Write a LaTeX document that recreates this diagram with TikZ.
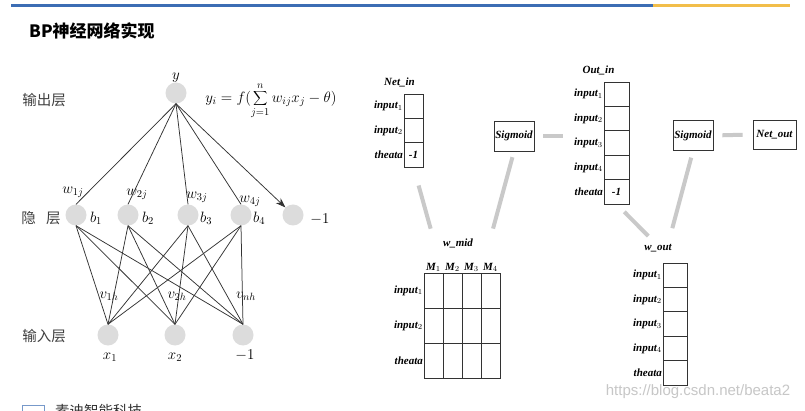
\documentclass[tikz,border=0pt]{standalone}
\usepackage{fix-cm}
\usepackage{fontspec}
\setmainfont{Liberation Serif}
\setsansfont{Liberation Sans}
\newfontfamily\cjk{Noto Sans CJK SC}
\usetikzlibrary{arrows.meta, positioning, calc}
\usepackage{xcolor}
\definecolor{bpgray}{HTML}{DCDCDC}
\definecolor{bplink}{HTML}{C9C9C9}
\definecolor{bpblue}{HTML}{3C6DB4}
\definecolor{bpgold}{HTML}{F2BE4A}
\newcommand{\tabfont}{\fontsize{11}{13}\selectfont\bfseries\itshape}
\newcommand{\netfont}{\fontsize{15}{17}\selectfont}

\begin{document}
\begin{tikzpicture}[x=1pt, y=-1pt,
    neuron/.style={circle, fill=bpgray, minimum size=21pt, inner sep=0pt},
    wire/.style={black!80, line width=0.75pt},
    mlab/.style={inner sep=0pt, font=\netfont},
    cjklab/.style={inner sep=0pt, font=\cjk\fontsize{14.5}{16}\selectfont, black!75},
    cell/.style={draw=black!80, line width=0.8pt, minimum width=#1, minimum height=24.4pt,
                 inner sep=0pt, outer sep=0pt, font=\tabfont},
    cell/.default=19pt,
    rowlab/.style={anchor=east, inner sep=1pt, font=\tabfont},
    caption/.style={inner sep=1pt, font=\tabfont},
    fnbox/.style={draw=black!80, line width=0.8pt, minimum width=40pt, minimum height=30pt,
                  inner sep=0pt, font=\tabfont},
    link/.style={bplink, line width=4pt}
  ]
    \useasboundingbox (0,0) rectangle (805,411);
    \fill[white] (0,0) rectangle (805,411);
    \draw[bpblue, line width=3pt] (11,6) -- (653,6);
    \draw[bpgold, line width=3pt] (653,6) -- (790,6);
    \node[anchor=west, inner sep=0pt, font=\cjk\bfseries\fontsize{17}{19}\selectfont] (title) at (29,31) {BP神经网络实现};

    \node[neuron] (y) at (176,93) {};
    \node[mlab, above=0pt of y] (ylab) {$y$};
    \node[mlab] (eq) at (271,101) {$y_i=f(\displaystyle\sum_{j=1}^{n}w_{ij}x_j-\theta)$};
    \foreach \i/\x in {1/76,2/128,3/188,4/241}
      \node[neuron] (h\i) at (\x,215) {};
    \node[neuron] (hb) at (293,215) {};
    \node[neuron] (x1) at (108,335) {};
    \node[neuron] (x2) at (175,335) {};
    \node[neuron] (xb) at (243,335) {};

    \node[cjklab] (lout) at (44,100) {输出层};
    \node[cjklab] (lhid) at (41,218) {隐\hspace{0.7em}层};
    \node[cjklab] (lin) at (44,336) {输入层};

    \foreach \i/\x/\yy in {1/73/192,2/137/194,3/197/197,4/250/201}
      \node[mlab] (w\i) at (\x,\yy) {$w_{\i j}$};
    \foreach \i/\x in {1/96,2/148,3/206,4/259}
      \node[mlab] (b\i) at (\x,218) {$b_{\i}$};
    \node[mlab] (bm) at (320,219) {$-1$};
    \node[mlab] (v1) at (109,296) {$v_{1h}$};
    \node[mlab] (v2) at (177,296) {$v_{2h}$};
    \node[mlab] (vn) at (246,296) {$v_{nh}$};
    \node[mlab] (xl1) at (110,357) {$x_1$};
    \node[mlab] (xl2) at (175,357) {$x_2$};
    \node[mlab] (xlb) at (245,355) {$-1$};

    \foreach \i in {1,...,4}
      \draw[wire] (y.south) -- (h\i.north);
    \draw[wire, -{Stealth[length=10pt, width=7pt]}] (y.south) -- (hb.north west);
    \foreach \i in {1,...,4}
      \foreach \j in {1,2,b}
        \draw[wire] (h\i.south) -- (x\j.north);

    \node[cell] (ni1) at (413.5,106.2) {};
    \node[cell, below=0pt of ni1] (ni2) {};
    \node[cell, below=0pt of ni2] (ni3) {-1};
    \node[caption, above=6pt of ni1, xshift=-14pt] (nil) {Net\_in};
    \foreach \r/\t in {1/input$_1$,2/input$_2$,3/theata}
      \node[rowlab] (nir\r) at (ni\r.west) {\t};

    \node[fnbox] (sg1) at (514,136) {Sigmoid};

    \node[cell=25pt] (oi1) at (616.5,94.2) {};
    \foreach \r [count=\p] in {2,...,5}
      \node[cell=25pt, below=0pt of oi\p] (oi\r) {};
    \node[font=\tabfont, inner sep=0pt] at (oi5) {-1};
    \node[caption, above=6pt of oi1, xshift=-18pt] (oil) {Out\_in};
    \foreach \r/\t in {1/input$_1$,2/input$_2$,3/input$_3$,4/input$_4$,5/theata}
      \node[rowlab] (oir\r) at (oi\r.west) {\t};

    \node[fnbox] (sg2) at (693,135.5) {Sigmoid};
    \node[fnbox, minimum width=43pt, minimum height=29pt] (nout) at (774.5,134.5) {Net\_out};

    \foreach \r/\yy in {1/290.5,2/325.5,3/360.5}
      \foreach \c/\xx in {1/433.5,2/452.5,3/471.5,4/490.5}
        \node[cell, minimum height=35pt] (wm-\r-\c) at (\xx,\yy) {};
    \foreach \c in {1,...,4}
      \node[caption, above=0pt of wm-1-\c] (mh\c) {M$_\c$};
    \foreach \r/\t in {1/input$_1$,2/input$_2$,3/theata}
      \node[rowlab] (wmr\r) at (wm-\r-1.west) {\t};
    \node[caption] (wml) at (458,243) {w\_mid};

    \node[cell=24pt] (wo1) at (675,275.2) {};
    \foreach \r [count=\p] in {2,...,5}
      \node[cell=24pt, below=0pt of wo\p] (wo\r) {};
    \foreach \r/\t in {1/input$_1$,2/input$_2$,3/input$_3$,4/input$_4$,5/theata}
      \node[rowlab] (wor\r) at (wo\r.west) {\t};
    \node[caption] (wol) at (658,248) {w\_out};

    \draw[link, shorten <=19pt, shorten >=46pt] (ni3.south) -- (wm-1-1.north east);
    \draw[link, shorten <=46pt, shorten >=6pt] (wm-1-4.north west) -- (sg1.south);
    \draw[link, shorten <=9pt, shorten >=41pt] (sg1.east) -- (sg1.east -| oi1.west);
    \draw[link, shorten <=11pt, shorten >=38pt] (oi5.south) -- (wo1.north);
    \draw[link, shorten <=7pt, shorten >=36pt] (sg2.south) -- (wo1.north west);
    \draw[link, shorten <=9pt, shorten >=10pt] (sg2.east) -- (nout.west);

    \node[font=\sffamily\fontsize{15}{17}\selectfont, text=black!22, inner sep=0pt] (url) at (698,392) {https://blog.csdn.net/beata2};
    \draw[bpblue!70, line width=1pt] (22,405) rectangle (44,416);
    \node[anchor=north west, inner sep=0pt, font=\cjk\fontsize{14.5}{16}\selectfont, black!80] (corp) at (55,404) {素迪智能科技};
  \end{tikzpicture}
\end{document}
